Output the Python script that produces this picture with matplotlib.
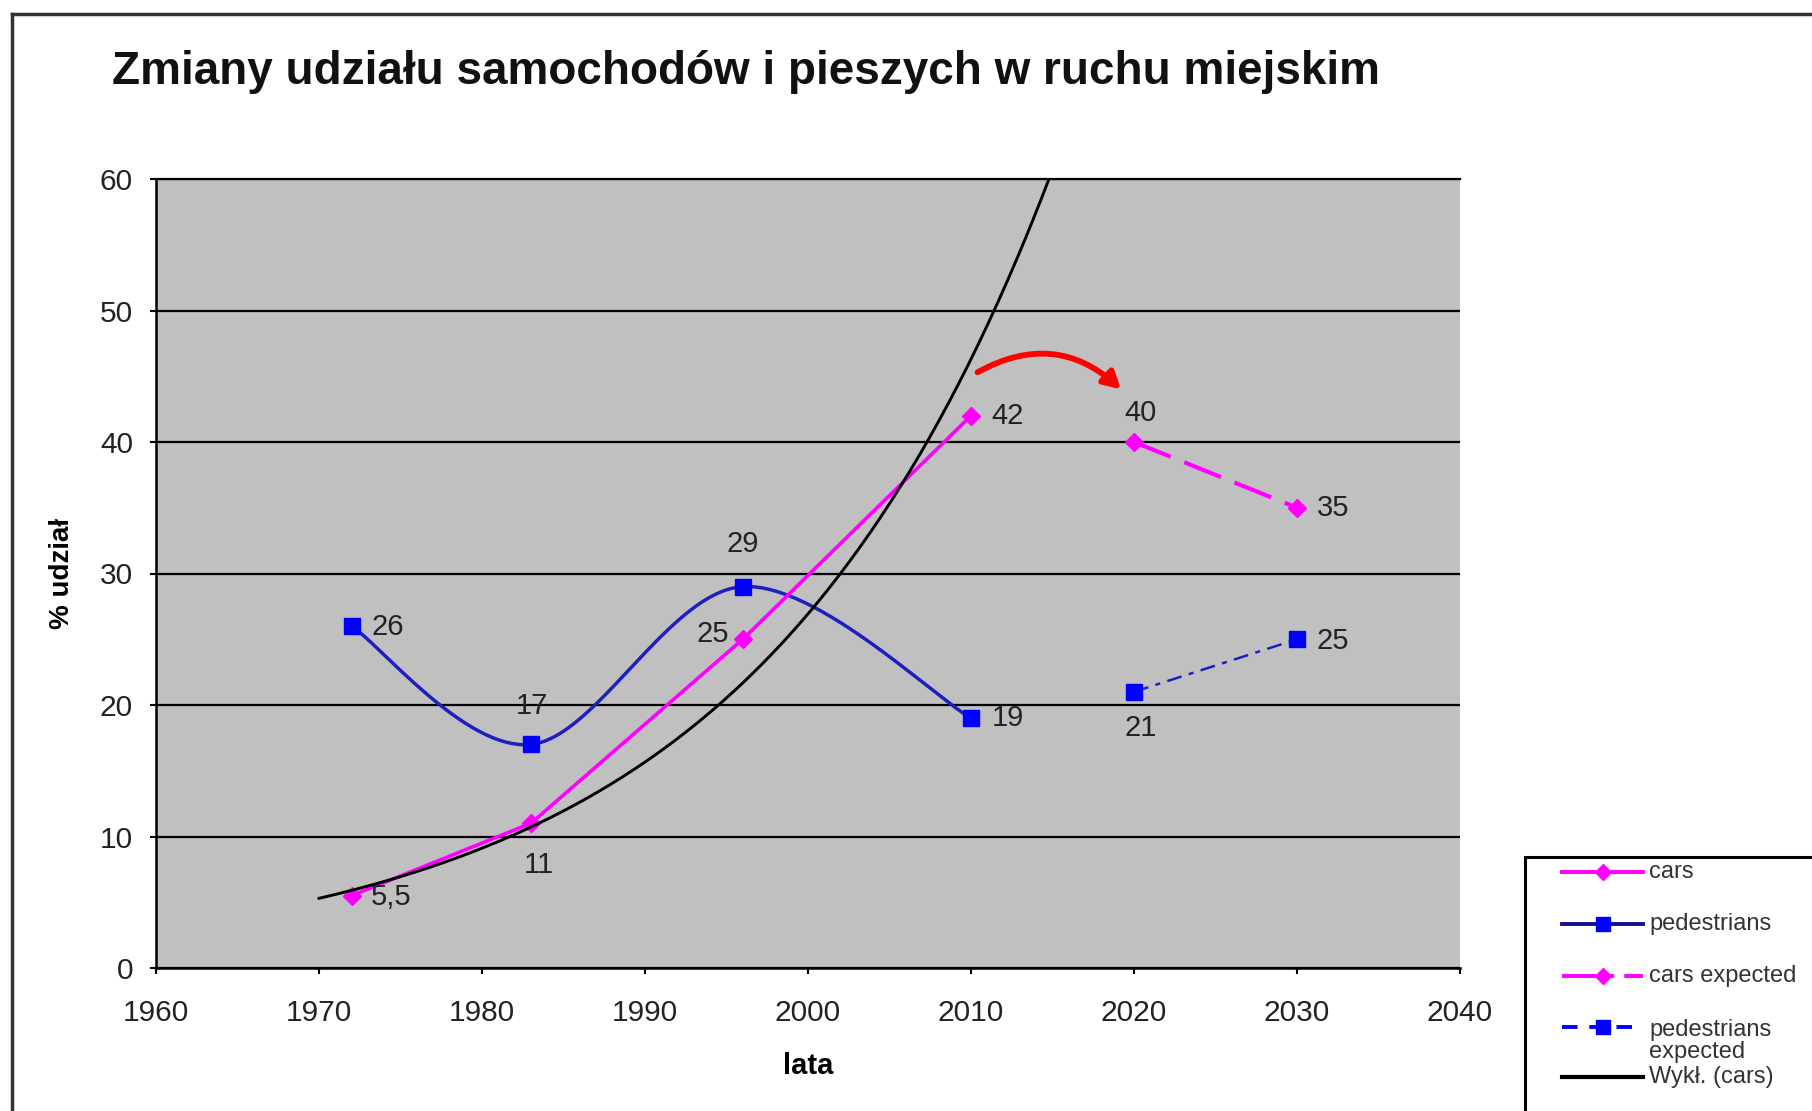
import numpy as np
import matplotlib
matplotlib.use('Agg')
import matplotlib.pyplot as plt
from matplotlib.lines import Line2D
from matplotlib.patches import Rectangle

# ---------------- data ----------------
years = [1972, 1983, 1996, 2010]
cars = [5.5, 11, 25, 42]
pedestrians = [26, 17, 29, 19]
years_expected = [2020, 2030]
cars_expected = [40, 35]
pedestrians_expected = [21, 25]

cars_labels = ['5,5', '11', '25', '42']
pedestrians_labels = ['26', '17', '29', '19']
cars_expected_labels = ['40', '35']
pedestrians_expected_labels = ['21', '25']

x_ticks = [1960, 1970, 1980, 1990, 2000, 2010, 2020, 2030, 2040]
y_ticks = [0, 10, 20, 30, 40, 50, 60]

title = 'Zmiany udziału samochodów i pieszych w ruchu miejskim'
x_label = 'lata'
y_label = '% udział'
legend_labels = ['cars', 'pedestrians', 'cars expected', 'pedestrians\nexpected', 'Wykł. (cars)']

# ---------------- style ----------------
plt.rcParams['font.family'] = ['Liberation Sans', 'DejaVu Sans']
MAGENTA = '#FF00FF'
BLUE_LINE = '#1F1FC0'
BLUE_MARK = '#0000FF'
NAVY = '#12128A'
GRAY = '#C0C0C0'

W, H = 1812, 1111
fig = plt.figure(figsize=(W / 100, H / 100), dpi=100)
fig.patch.set_facecolor('white')

ax = fig.add_axes([156 / W, 1 - 968 / H, (1460 - 156) / W, (968 - 179) / H])
ax.set_facecolor(GRAY)
ax.set_xlim(1960, 2040)
ax.set_ylim(0, 60)
ax.set_xticks(x_ticks)
ax.set_yticks(y_ticks)
ax.tick_params(axis='both', direction='out', length=4.5, width=1.5, labelsize=21.5, colors='black')
ax.tick_params(axis='x', pad=18)
ax.tick_params(axis='y', pad=12)
for lab in ax.get_xticklabels() + ax.get_yticklabels():
    lab.set_color('#222222')
ax.grid(axis='y', color='black', linewidth=1.6)
ax.set_axisbelow(True)
ax.spines['right'].set_visible(False)
ax.spines['top'].set_linewidth(1.6)
ax.spines['left'].set_linewidth(1.8)
ax.spines['bottom'].set_linewidth(1.8)


def catmull_bezier(xs, ys, n=60):
    pts = np.column_stack([xs, ys]).astype(float)
    ext = np.vstack([pts[0], pts, pts[-1]])
    out = []
    for i in range(1, len(ext) - 2):
        p0, p1, p2, p3 = ext[i - 1], ext[i], ext[i + 1], ext[i + 2]
        c1 = p1 + (p2 - p0) / 6.0
        c2 = p2 - (p3 - p1) / 6.0
        t = np.linspace(0, 1, n)[:, None]
        seg = ((1 - t) ** 3) * p1 + 3 * ((1 - t) ** 2) * t * c1 + 3 * (1 - t) * t ** 2 * c2 + t ** 3 * p2
        out.append(seg if i == 1 else seg[1:])
    out = np.vstack(out)
    return out[:, 0], out[:, 1]


# exponential trendline fitted to cars
b, ln_a = np.polyfit(years, np.log(cars), 1)
tx = np.linspace(1970, 2030, 400)
ty = np.exp(ln_a + b * tx)

# pedestrians (smoothed)
px, py = catmull_bezier(years, pedestrians)
ax.plot(px, py, color=BLUE_LINE, linewidth=2.5, zorder=3)
ax.plot(years, pedestrians, linestyle='none', marker='s', markersize=11,
        color=BLUE_MARK, zorder=4)

# cars
ax.plot(years, cars, color=MAGENTA, linewidth=2.6, marker='D', markersize=9,
        markerfacecolor=MAGENTA, markeredgecolor=MAGENTA, zorder=4)

# trendline
ax.plot(tx, ty, color='black', linewidth=2.1, zorder=5)

# expected
ax.plot(years_expected, cars_expected, color=MAGENTA, linewidth=3.0,
        dashes=(9.5, 3.5), marker='D', markersize=9, zorder=4)
ax.plot(years_expected, pedestrians_expected, color=BLUE_LINE, linewidth=1.8,
        dashes=(6, 3, 2, 3), zorder=3)
ax.plot(years_expected, pedestrians_expected, linestyle='none', marker='s',
        markersize=11, color=BLUE_MARK, zorder=4)

# data labels
LBL = dict(fontsize=21, color='#222222', zorder=6)

def put_labels(xs, ys, labels, offsets, has):
    for x, y, t, off, ha in zip(xs, ys, labels, offsets, has):
        ax.annotate(t, (x, y), xytext=off, textcoords='offset points',
                    ha=ha, va='center', **LBL)

put_labels(years, cars, cars_labels,
           [(14, -1), (6, -30), (-10, 4), (15, 0)],
           ['left', 'center', 'right', 'left'])
put_labels(years, pedestrians, pedestrians_labels,
           [(14, -1), (1, 28), (0, 31), (15, 0)],
           ['left', 'center', 'center', 'left'])
put_labels(years_expected, cars_expected, cars_expected_labels,
           [(5, 21), (14, 0)], ['center', 'left'])
put_labels(years_expected, pedestrians_expected, pedestrians_expected_labels,
           [(5, -26), (14, -1)], ['center', 'left'])

# red curved arrow
ax.annotate('', xy=(2019.2, 44.0), xytext=(2010.4, 45.3),
            arrowprops=dict(arrowstyle='-|>,head_length=1.0,head_width=0.55',
                            color='red', linewidth=4.2,
                            connectionstyle='arc3,rad=-0.36',
                            shrinkA=0, shrinkB=0), zorder=7)

# titles
fig.text(112 / W, 1 - 72 / H, title, fontsize=33, fontweight='bold',
         ha='left', va='center', color='#111111')
ax.set_xlabel(x_label, fontsize=21, fontweight='bold', labelpad=18)
ax.set_ylabel(y_label, fontsize=20, fontweight='bold', labelpad=18)

# outer chart frame (cropped)
fig.add_artist(Line2D([12 / W, 1.0], [1 - 14 / H, 1 - 14 / H], transform=fig.transFigure,
                      color='#333333', linewidth=2.5))
fig.add_artist(Line2D([12 / W, 12 / W], [0, 1 - 14 / H], transform=fig.transFigure,
                      color='#333333', linewidth=2.5))

# legend box (cropped at the figure edge, as in the reference)
fig.add_artist(Rectangle((1525 / W, -0.05), 0.3, 1 - 857 / H + 0.05,
                         transform=fig.transFigure, facecolor='white',
                         edgecolor='black', linewidth=2.2, zorder=1))

leg_styles = [
    dict(color=MAGENTA, linewidth=2.8, marker='D', markersize=8),
    dict(color=NAVY, linewidth=2.8, marker='s', markersize=10,
         markerfacecolor=BLUE_MARK, markeredgecolor=BLUE_MARK),
    dict(color=MAGENTA, linewidth=2.8, dashes=(13.4, 2.6), marker='D', markersize=8),
    dict(color=BLUE_MARK, linewidth=2.8, dashes=(4, 3), marker='s', markersize=10),
    dict(color='black', linewidth=3.0),
]
leg_rows = [872, 924, 976, 1027, 1077]
leg_text_y = [872, 924, 976, 1041, 1077]
x0, x1, xm, xt = 1562, 1643, 1603, 1649
for sty, ry, ty_, lab in zip(leg_styles, leg_rows, leg_text_y, legend_labels):
    yy = 1 - ry / H
    fig.add_artist(Line2D([x0 / W, x1 / W], [yy, yy], transform=fig.transFigure,
                          zorder=3, **{k: v for k, v in sty.items() if k not in ('marker', 'markersize', 'markerfacecolor', 'markeredgecolor')}))
    if 'marker' in sty:
        fig.add_artist(Line2D([xm / W], [yy], transform=fig.transFigure, linestyle='none',
                              marker=sty['marker'], markersize=sty['markersize'],
                              color=sty.get('markerfacecolor', sty['color']), zorder=4))
    fig.text(xt / W, 1 - ty_ / H, lab, fontsize=17, color='#333333', ha='left',
             va='center', linespacing=0.95, zorder=5)

fig.savefig('out.png', dpi=100, facecolor='white')
